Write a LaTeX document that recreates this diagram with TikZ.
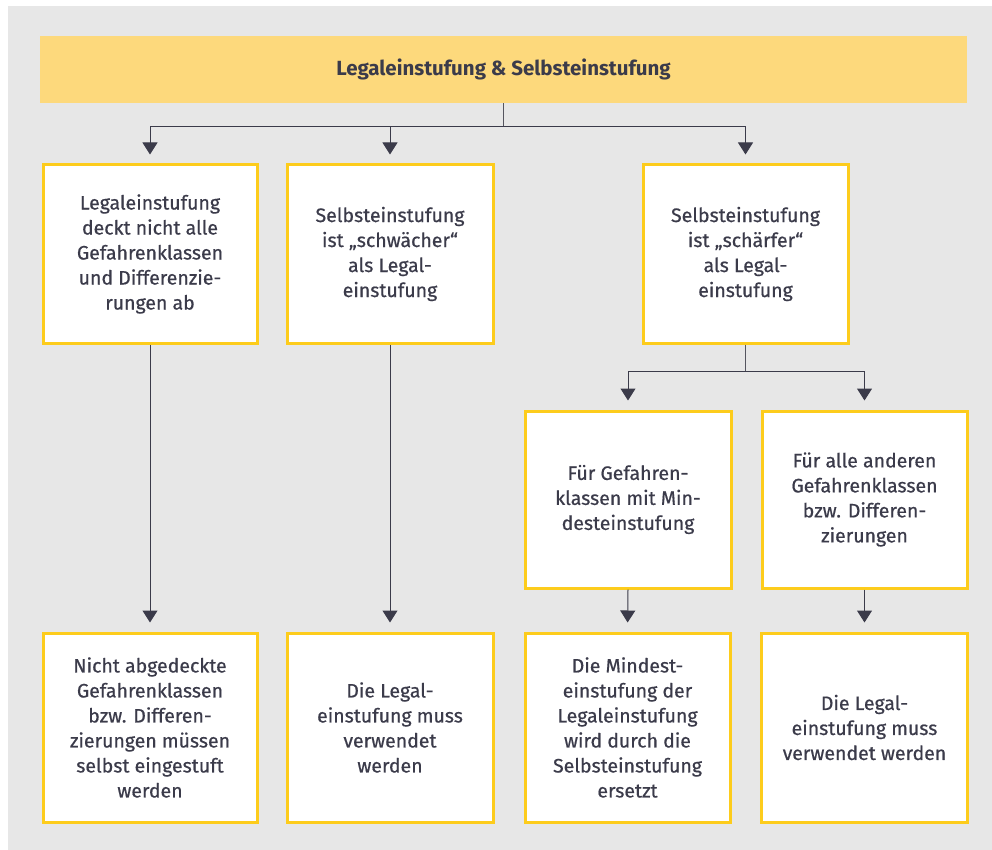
\documentclass[tikz,border=0pt]{standalone}
\usepackage{fontspec}
\setmainfont{Fira Sans}
\newfontfamily\boxfont{Fira Sans}[FakeBold=0.6]
\usetikzlibrary{arrows.meta}
\definecolor{bggrey}{HTML}{E7E7E7}
\definecolor{headyellow}{HTML}{FDD97C}
\definecolor{boxyellow}{HTML}{FDCC1C}
\definecolor{inkgrey}{HTML}{3B3B4A}
\definecolor{linegrey}{HTML}{55555F}
\begin{document}
\begin{tikzpicture}[
            x=1pt, y=-1pt,
            every node/.style={align=center, text=inkgrey, font=\boxfont\fontsize{19.5}{25}\selectfont},
            headbox/.style={fill=headyellow, minimum width=927pt, minimum height=67pt, font=\fontsize{20.5}{25}\selectfont\bfseries},
            stepbox/.style={draw=boxyellow, line width=3pt, fill=white, inner sep=0pt},
            link/.style={draw=linegrey, line width=1pt},
            flow/.style={link, -{Triangle[width=15pt,length=12pt]}, color=inkgrey, shorten >=9pt},
        ]
        \useasboundingbox (0,0) rectangle (992,850);
        \fill[bggrey] (8,6) rectangle (992,850);
        % header
        \node[headbox] (head) at (503.5,69.5) {Legaleinstufung \& Selbsteinstufung};
        % first row
        \node[stepbox, minimum width=214pt, minimum height=178pt] (legal) at (150,254)
            {Legaleinstufung\\deckt nicht alle\\Gefahrenklassen\\und Differenzie-\\rungen ab};
        \node[stepbox, minimum width=206pt, minimum height=178pt] (weak) at (390,254)
            {Selbsteinstufung\\ist „schwächer“\\als Legal-\\einstufung};
        \node[stepbox, minimum width=205pt, minimum height=178pt] (strong) at (745.5,254)
            {Selbsteinstufung\\ist „schärfer“\\als Legal-\\einstufung};
        % second row
        \node[stepbox, minimum width=206pt, minimum height=177pt] (mind) at (628,499.5)
            {Für Gefahren-\\klassen mit Min-\\desteinstufung};
        \node[stepbox, minimum width=205pt, minimum height=177pt] (other) at (864.5,499.5)
            {Für alle anderen\\Gefahrenklassen\\bzw. Differen-\\zierungen};
        % results
        \node[stepbox, minimum width=214pt, minimum height=189pt] (resA) at (150,727.5)
            {Nicht abgedeckte\\Gefahrenklassen\\bzw. Differen-\\zierungen müssen\\selbst eingestuft\\werden};
        \node[stepbox, minimum width=206pt, minimum height=189pt] (resB) at (390,727.5)
            {Die Legal-\\einstufung muss\\verwendet\\werden};
        \node[stepbox, minimum width=205pt, minimum height=189pt] (resC) at (627.5,727.5)
            {Die Mindest-\\einstufung der\\Legaleinstufung\\wird durch die\\Selbsteinstufung\\ersetzt};
        \node[stepbox, minimum width=206pt, minimum height=189pt] (resD) at (864.5,727.5)
            {Die Legal-\\einstufung muss\\verwendet werden};
        % connectors
        \coordinate (split) at ([yshift=-23pt]head.south);
        \draw[link] (head.south) -- (split);
        \draw[flow] (split) -| (legal.north);
        \draw[flow] (split) -| (weak.north);
        \draw[flow] (split) -| (strong.north);
        \coordinate (split2) at ([yshift=-27pt]strong.south);
        \draw[link] (strong.south) -- (split2);
        \draw[flow] (split2) -| (mind.north);
        \draw[flow] (split2) -| (other.north);
        \draw[flow] (legal.south) -- (resA.north);
        \draw[flow] (weak.south) -- (resB.north);
        \draw[flow] (mind.south) -- (resC.north);
        \draw[flow] (other.south) -- (resD.north);
\end{tikzpicture}
\end{document}
